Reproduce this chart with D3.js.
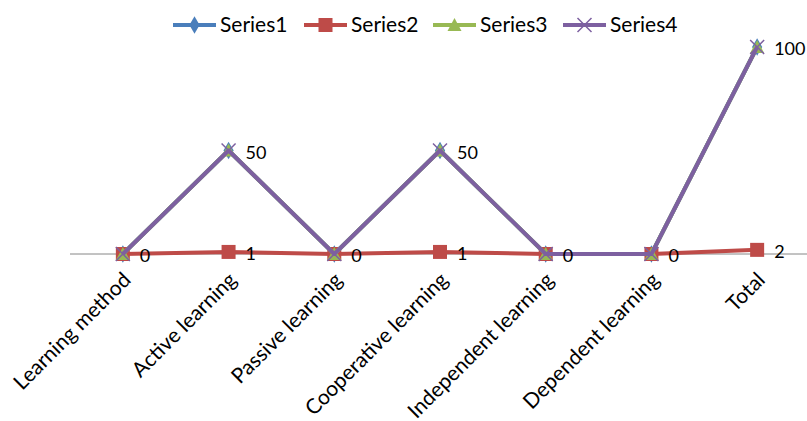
<!DOCTYPE html>
<html>
<head>
<meta charset="utf-8">
<script src="https://cdn.jsdelivr.net/npm/d3@7"></script>
<style>
  body { margin: 0; background: #fff; }
  text { font-family: Lato, "Open Sans", sans-serif; fill: #000; }
</style>
</head>
<body>
<div id="chart"></div>
<script>
// data
const categories = ["Learning method", "Active learning", "Passive learning", "Cooperative learning",
  "Independent learning", "Dependent learning", "Total"];
const series1 = [0, 50, 0, 50, 0, 0, 100];
const series2 = [0, 1, 0, 1, 0, 0, 2];
const series3 = [0, 50, 0, 50, 0, 0, 100];
const series4 = [0, 50, 0, 50, 0, 0, 100];
const seriesNames = ["Series1", "Series2", "Series3", "Series4"];
const seriesColors = ["#4A7EBB", "#BE4B48", "#98B954", "#7D60A0"];
const seriesMarkers = ["diamond", "square", "triangle", "cross"];
// which series carry data labels (the non-zero ones only for series4)
const labels2 = series2;
const labels4 = [null, 50, null, 50, null, null, 100];

const width = 807, height = 421;
const margin = { top: 47, right: -3, bottom: 167, left: 70 };
const fontSize = "21px";

const svg = d3.select("#chart").append("svg")
  .attr("width", width)
  .attr("height", height);

const x = d3.scaleBand()
  .domain(categories)
  .range([margin.left, width - margin.right]);

const y = d3.scaleLinear()
  .domain([0, 100])
  .range([height - margin.bottom, margin.top]);

const cx = d => x(d) + x.bandwidth() / 2;

// category axis
svg.append("line")
  .attr("x1", margin.left).attr("x2", width)
  .attr("y1", y(0)).attr("y2", y(0))
  .attr("stroke", "#868686").attr("stroke-width", 1);

svg.append("g").selectAll("text")
  .data(categories)
  .join("text")
  .attr("transform", d => `translate(${cx(d) + 4},${y(0) + 22}) rotate(-45)`)
  .attr("text-anchor", "end")
  .attr("dy", "0.35em")
  .style("font-size", fontSize)
  .text(d => d);

function marker(sel, type, color) {
  if (type === "diamond") {
    sel.append("path").attr("d", d3.symbol(d3.symbolDiamond, 90)()).attr("fill", color);
  } else if (type === "square") {
    sel.append("rect").attr("x", -7).attr("y", -7).attr("width", 14).attr("height", 14).attr("fill", color);
  } else if (type === "triangle") {
    sel.append("path").attr("d", "M0,-7L7,6L-7,6Z").attr("fill", color);
  } else {
    sel.append("path").attr("d", "M-7,-7L7,7M-7,7L7,-7")
      .attr("stroke", color).attr("stroke-width", 1.5).attr("fill", "none");
  }
}

const allSeries = [series1, series2, series3, series4];
const line = d3.line()
  .x((d, i) => cx(categories[i]))
  .y(d => y(d));

allSeries.forEach((vals, si) => {
  const g = svg.append("g");
  g.append("path")
    .datum(vals)
    .attr("d", line)
    .attr("fill", "none")
    .attr("stroke", seriesColors[si])
    .attr("stroke-width", 4)
    .attr("stroke-linejoin", "round");
  g.selectAll("g.pt")
    .data(vals)
    .join("g")
    .attr("class", "pt")
    .attr("transform", (d, i) => `translate(${cx(categories[i])},${y(d)})`)
    .call(s => marker(s, seriesMarkers[si], seriesColors[si]));
});

// data labels
function addLabels(vals, src) {
  svg.append("g").selectAll("text")
    .data(vals.map((v, i) => ({ v, i, yv: src[i] })).filter(d => d.v !== null))
    .join("text")
    .attr("x", d => cx(categories[d.i]) + 17)
    .attr("y", d => y(d.yv) + 2)
    .attr("dy", "0.35em")
    .style("font-size", "18px")
    .text(d => d.v);
}
addLabels(labels2, series2);
addLabels(labels4, series4);

// legend
const legendX = [173, 304, 433, 563];
const legend = svg.append("g");
seriesNames.forEach((name, i) => {
  const g = legend.append("g").attr("transform", `translate(${legendX[i]},25)`);
  g.append("line").attr("x1", 0).attr("x2", 43).attr("y1", 0).attr("y2", 0)
    .attr("stroke", seriesColors[i]).attr("stroke-width", 4);
  const m = g.append("g").attr("transform", "translate(21.5,0)");
  marker(m, seriesMarkers[i], seriesColors[i]);
  g.append("text").attr("x", 47).attr("y", 0).attr("dy", "0.35em")
    .style("font-size", fontSize).text(name);
});
</script>
</body>
</html>
